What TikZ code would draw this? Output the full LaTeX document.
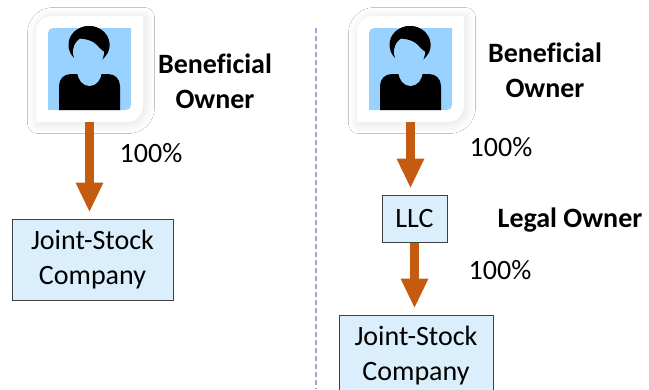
\documentclass[tikz,border=0pt]{standalone}
\usepackage{fontspec}
\setmainfont{Carlito}[Ligatures=NoCommon]
\usetikzlibrary{arrows.meta,shadows.blur}
\definecolor{arrowc}{HTML}{C55A11}
\definecolor{boxfill}{HTML}{DAEEFC}
\definecolor{boxline}{HTML}{404040}
\definecolor{iconblue}{HTML}{99D1FF}
\definecolor{divc}{HTML}{B49AD6}
\tikzset{
 lbl/.style={font=\fontsize{28}{35}\selectfont, align=center, inner sep=0pt},
 blbl/.style={align=center, inner sep=0pt, font=\bfseries\fontsize{28}{35}\selectfont},
 entity/.style={draw=boxline, fill=boxfill, line width=1pt, align=center, font=\fontsize{28}{35}\selectfont, inner sep=0pt},
 own/.style={draw=arrowc, line width=9pt, -{Triangle[width=28pt,length=29pt,line width=0pt]}, shorten >=7pt},
 frameshape/.style={fill=white, blur shadow={shadow xshift=1.5pt, shadow yshift=-1.5pt, shadow blur radius=10pt, shadow opacity=12, shadow blur steps=16}},
 iconanchor/.style={minimum width=107pt, minimum height=106pt, inner sep=0pt},
}
\newcommand{\ownericon}[2]{%
\begin{scope}[shift={(#1,0)}]
 \path[frameshape] (36,32) .. controls (36,23.2) and (43.2,16) .. (52,16) -- (143,16) -- (143,106) .. controls (143,114.8) and (135.8,122) .. (127,122) -- (36,122) -- cycle;
 \fill[iconblue] (48,33) .. controls (48,30.2) and (50.2,28) .. (53,28) -- (131,28) -- (131,105) .. controls (131,107.8) and (128.8,110) .. (126,110) -- (48,110) -- cycle;
 \fill[black] (89,45) ellipse [x radius=20.5pt, y radius=19pt];
 \fill[black] (59,110) -- (59,86) .. controls (59,79) and (64,74) .. (71,74) -- (108,74) .. controls (115,74) and (120,79) .. (120,86) -- (120,110) -- cycle;
 \fill[iconblue] (89.5,72) ellipse [x radius=12pt, y radius=14pt];
 \fill[iconblue] (88.5,52) ellipse [x radius=15.5pt, y radius=16pt];
 \begin{scope}
  \clip (89,45) ellipse [x radius=20.5pt, y radius=19pt];
  \fill[black] (70,40) .. controls (80,37) and (91,39) .. (97,45) .. controls (100,49) and (104,52) .. (110,55) -- (112,20) -- (64,20) -- cycle;
 \end{scope}
 \node[iconanchor] (#2) at (89.5,69) {};
\end{scope}}
\begin{document}
\begin{tikzpicture}[x=1pt,y=-1pt]
\useasboundingbox (0,0) rectangle (649,389);
\clip (0,0) rectangle (649,389);
\fill[white] (0,0) rectangle (649,389);
\draw[divc, line width=1.5pt, dash pattern=on 5pt off 3pt] (316,28) -- (316,389);
\ownericon{0}{bo1}
\ownericon{321}{bo2}
\node[blbl] (bo1lbl) at (215,81) {Beneficial\\Owner};
\node[blbl] (bo2lbl) at (545,70) {Beneficial\\Owner};
\node[lbl] (p1) at (151,153) {100\%};
\node[lbl] (p2) at (501,147) {100\%};
\node[lbl] (p3) at (500,270) {100\%};
\node[blbl] (lo) at (570,220) {Legal Owner};
\node[entity, minimum width=161pt, minimum height=81pt] (jsc1) at (92.5,259.5) {Joint-Stock\\Company};
\node[entity, minimum width=65pt, minimum height=47pt] (llc) at (414.5,218.5) {LLC};
\node[entity, minimum width=154pt, minimum height=82pt] (jsc2) at (416,356) {Joint-Stock\\Company};
\draw[own] (bo1.south) -- (bo1.south |- jsc1.north);
\draw[own] (bo2.south) -- (bo2.south |- llc.north);
\draw[own] (llc.south) -- (llc.south |- jsc2.north);
\end{tikzpicture}
\end{document}
